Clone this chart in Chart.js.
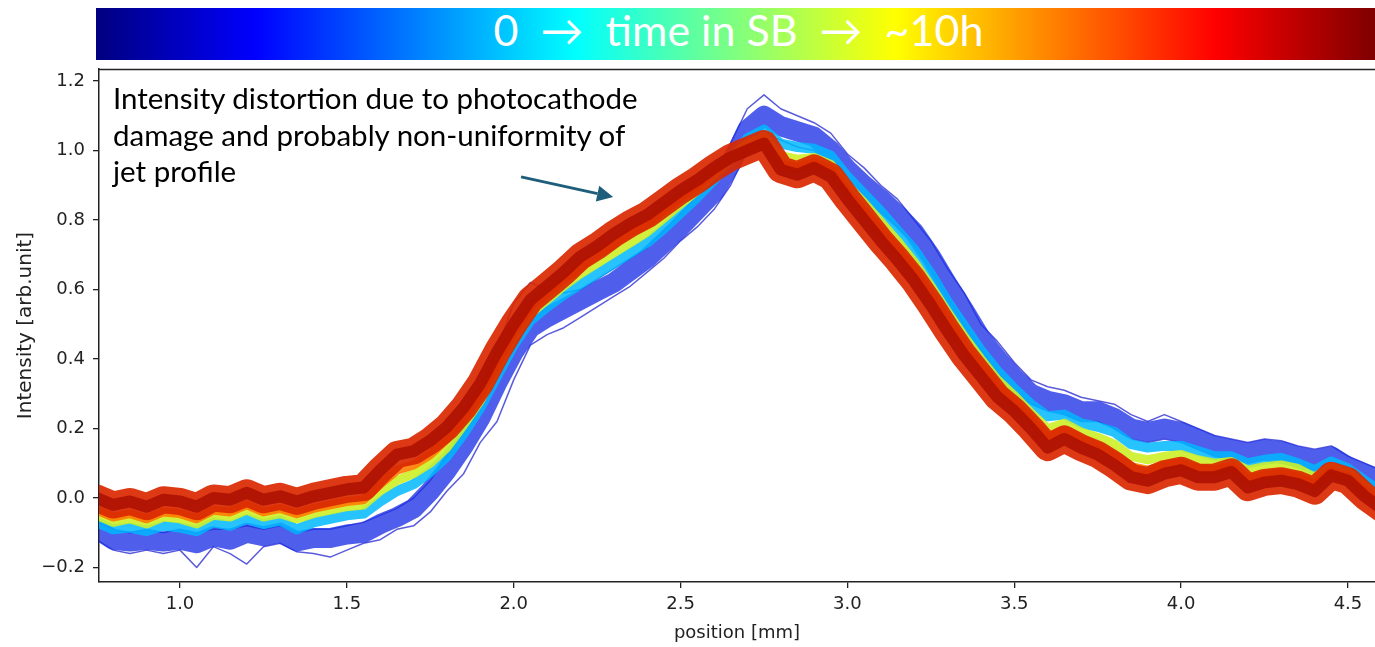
<!DOCTYPE html>
<html>
<head>
<meta charset="utf-8">
<script src="https://cdn.jsdelivr.net/npm/chart.js@4.4.0/dist/chart.umd.min.js"></script>
<style>
html,body{margin:0;padding:0;background:#fff;overflow:hidden}
#wrap{position:relative;width:1375px;height:647px}
#c{position:absolute;left:0;top:0}
#cbar{position:absolute;left:96px;top:8px;width:1279px;height:52px;overflow:hidden;
  background:linear-gradient(to right,#00007f 0%,#0000ff 12.5%,#007fff 25%,#00ffff 37.5%,#7fff7f 50%,#ffff00 62.5%,#ff7f00 75%,#ff0000 87.5%,#7f0000 100%);
  color:#fff;font-family:Lato,"Open Sans",sans-serif;font-size:43px;text-align:center;line-height:52px;white-space:pre}
#cbar span{position:relative;top:-4px;left:-93px;display:inline-block;width:1471px}
#note{position:absolute;left:113px;top:80px;font-family:Lato,"Open Sans",sans-serif;font-size:29.5px;line-height:36.5px;color:#000;white-space:pre}
</style>
</head>
<body>
<div id="wrap">
<canvas id="c" width="1375" height="647"></canvas>
<div id="cbar"><span>0  →  time in SB  →  ~10h</span></div>
<div id="note">Intensity distortion due to photocathode
damage and probably non-uniformity of
jet profile</div>
</div>
<script>
// ---- data ----
const positions = [0.75,0.80,0.85,0.90,0.95,1.00,1.05,1.10,1.15,1.20,1.25,1.30,1.35,1.40,1.45,1.50,1.55,1.60,1.65,1.70,1.75,1.80,1.85,1.90,1.95,2.00,2.05,2.10,2.15,2.20,2.25,2.30,2.35,2.40,2.45,2.50,2.55,2.60,2.65,2.70,2.75,2.80,2.85,2.90,2.95,3.00,3.05,3.10,3.15,3.20,3.25,3.30,3.35,3.40,3.45,3.50,3.55,3.60,3.65,3.70,3.75,3.80,3.85,3.90,3.95,4.00,4.05,4.10,4.15,4.20,4.25,4.30,4.35,4.40,4.45,4.50,4.55,4.60];

// early profiles (t ~ 0, blue)
const intensityBlue = [-0.09,-0.12,-0.125,-0.12,-0.125,-0.12,-0.13,-0.11,-0.12,-0.10,-0.11,-0.10,-0.125,-0.115,-0.115,-0.105,-0.10,-0.075,-0.055,-0.03,0.02,0.08,0.15,0.23,0.33,0.42,0.49,0.52,0.545,0.57,0.595,0.62,0.655,0.69,0.735,0.78,0.83,0.88,0.96,1.06,1.10,1.07,1.055,1.04,1.0,0.945,0.90,0.86,0.815,0.765,0.695,0.615,0.54,0.46,0.40,0.345,0.30,0.28,0.27,0.25,0.25,0.23,0.20,0.19,0.20,0.19,0.17,0.15,0.14,0.13,0.14,0.135,0.12,0.11,0.12,0.09,0.07,0.05];
// outermost early traces (upper / lower blue lines)
const intensityBlueUpper = [-0.07,-0.09,-0.10,-0.09,-0.10,-0.09,-0.10,-0.09,-0.09,-0.08,-0.09,-0.08,-0.10,-0.09,-0.09,-0.08,-0.07,-0.05,-0.03,0.0,0.05,0.12,0.20,0.30,0.43,0.56,0.62,0.60,0.59,0.60,0.63,0.66,0.69,0.72,0.77,0.82,0.87,0.93,1.02,1.12,1.16,1.12,1.10,1.08,1.05,0.99,0.95,0.90,0.86,0.80,0.74,0.66,0.59,0.50,0.45,0.39,0.34,0.32,0.31,0.29,0.28,0.27,0.24,0.22,0.24,0.22,0.20,0.18,0.17,0.16,0.17,0.165,0.15,0.14,0.15,0.12,0.10,0.08];
const intensityBlueLower = [-0.12,-0.15,-0.16,-0.15,-0.16,-0.15,-0.20,-0.14,-0.16,-0.19,-0.14,-0.13,-0.155,-0.16,-0.17,-0.15,-0.13,-0.12,-0.09,-0.08,-0.04,0.02,0.07,0.16,0.22,0.34,0.44,0.47,0.49,0.52,0.55,0.58,0.61,0.65,0.69,0.74,0.78,0.83,0.90,1.00,1.05,1.03,1.01,1.0,0.96,0.91,0.86,0.82,0.78,0.73,0.66,0.58,0.50,0.43,0.36,0.31,0.27,0.25,0.24,0.22,0.22,0.20,0.17,0.16,0.17,0.16,0.14,0.12,0.11,0.10,0.11,0.10,0.09,0.08,0.09,0.06,0.04,0.02];
// cyan profiles
const intensityCyan = [-0.07,-0.09,-0.085,-0.095,-0.08,-0.085,-0.095,-0.07,-0.08,-0.06,-0.075,-0.065,-0.09,-0.07,-0.06,-0.05,-0.045,-0.01,0.02,0.04,0.075,0.12,0.185,0.26,0.35,0.44,0.51,0.55,0.585,0.615,0.645,0.675,0.705,0.735,0.775,0.82,0.865,0.915,0.975,1.035,1.06,1.02,1.01,1.005,0.985,0.925,0.875,0.825,0.77,0.715,0.645,0.565,0.495,0.425,0.365,0.315,0.27,0.235,0.24,0.215,0.205,0.19,0.155,0.145,0.15,0.15,0.135,0.12,0.12,0.10,0.11,0.115,0.10,0.08,0.105,0.085,0.05,0.02];
// yellow-green profiles (middle of the run)
const intensityYellow = [-0.05,-0.07,-0.06,-0.075,-0.055,-0.06,-0.075,-0.05,-0.055,-0.035,-0.055,-0.045,-0.06,-0.045,-0.035,-0.025,-0.02,0.02,0.05,0.07,0.10,0.145,0.21,0.28,0.37,0.46,0.53,0.57,0.61,0.645,0.675,0.705,0.735,0.765,0.805,0.845,0.885,0.93,0.98,1.02,1.04,0.985,0.975,0.98,0.96,0.90,0.85,0.795,0.74,0.68,0.61,0.535,0.465,0.40,0.34,0.295,0.245,0.20,0.215,0.19,0.175,0.155,0.12,0.11,0.12,0.125,0.11,0.10,0.105,0.08,0.09,0.095,0.085,0.06,0.09,0.075,0.035,0.0];
// orange profiles
const intensityOrange = [-0.035,-0.055,-0.045,-0.06,-0.04,-0.045,-0.06,-0.035,-0.04,-0.02,-0.04,-0.03,-0.045,-0.03,-0.02,-0.01,-0.005,0.04,0.08,0.095,0.125,0.17,0.23,0.30,0.39,0.48,0.55,0.59,0.63,0.665,0.70,0.73,0.765,0.79,0.83,0.865,0.90,0.94,0.975,1.005,1.025,0.96,0.95,0.965,0.945,0.88,0.825,0.77,0.715,0.655,0.585,0.51,0.44,0.38,0.32,0.275,0.225,0.175,0.195,0.17,0.15,0.125,0.09,0.08,0.095,0.10,0.085,0.08,0.09,0.055,0.065,0.07,0.06,0.04,0.075,0.06,0.02,-0.015];
// late profiles (t ~ 10 h, red)
const intensityRed = [0.00,-0.02,-0.01,-0.025,-0.005,-0.01,-0.025,0.00,-0.005,0.015,-0.005,0.005,-0.01,0.005,0.015,0.025,0.03,0.08,0.125,0.135,0.165,0.205,0.26,0.33,0.42,0.50,0.57,0.61,0.65,0.695,0.725,0.76,0.79,0.815,0.85,0.885,0.915,0.95,0.98,1.00,1.02,0.945,0.93,0.95,0.925,0.86,0.80,0.74,0.685,0.625,0.555,0.48,0.41,0.35,0.29,0.25,0.20,0.145,0.17,0.145,0.125,0.095,0.06,0.05,0.07,0.08,0.06,0.06,0.075,0.03,0.045,0.05,0.04,0.02,0.065,0.05,0.005,-0.03];

const xTicks = [1.0,1.5,2.0,2.5,3.0,3.5,4.0,4.5];
const yTicks = [-0.2,0.0,0.2,0.4,0.6,0.8,1.0,1.2];
const xRange = [0.7573,4.581];
const yRange = [-0.2417,1.2345];
const arrowFrom = [2.022,0.924];
const arrowTo = [2.298,0.866];

// ---- build chart ----
const pts = arr => positions.map((x,i)=>({x:x,y:arr[i]}));
const band = (label,arr,color,width,order) => ({
  label:label,data:pts(arr),borderColor:color,borderWidth:width,
  pointRadius:0,tension:0,fill:false,clip:0,order:order,
  borderJoinStyle:'round',borderCapStyle:'round'
});

const fmt = v => {const s=Math.abs(v).toFixed(1);return v< -1e-9 ? '\u2212'+s : s;};

const frame = {
  id:'frame',
  afterDraw(chart){
    const {ctx,chartArea:a,scales:{x,y}} = chart;
    ctx.save();
    ctx.strokeStyle='#222';ctx.lineWidth=1.5;
    ctx.beginPath();ctx.moveTo(a.left,a.top+0.5);ctx.lineTo(a.right,a.top+0.5);ctx.stroke();
    // annotation arrow
    const x0=x.getPixelForValue(arrowFrom[0]),y0=y.getPixelForValue(arrowFrom[1]);
    const x1=x.getPixelForValue(arrowTo[0]),y1=y.getPixelForValue(arrowTo[1]);
    const ang=Math.atan2(y1-y0,x1-x0),hl=16,hw=8;
    const bx=x1-hl*Math.cos(ang),by=y1-hl*Math.sin(ang);
    ctx.strokeStyle='#1f5e7a';ctx.fillStyle='#1f5e7a';ctx.lineWidth=3;
    ctx.beginPath();ctx.moveTo(x0,y0);ctx.lineTo(bx,by);ctx.stroke();
    ctx.beginPath();ctx.moveTo(x1,y1);
    ctx.lineTo(bx+hw*Math.sin(ang),by-hw*Math.cos(ang));
    ctx.lineTo(bx-hw*Math.sin(ang),by+hw*Math.cos(ang));
    ctx.closePath();ctx.fill();
    ctx.restore();
  }
};

const tickFont = {family:'"DejaVu Sans", sans-serif',size:18};

new Chart(document.getElementById('c'),{
  type:'line',
  data:{datasets:[
    band('t0 upper trace',intensityBlueUpper,'rgba(35,35,210,0.75)',1.5,8),
    band('t0 lower trace',intensityBlueLower,'rgba(35,35,210,0.75)',1.5,9),
    band('t0 (blue)',intensityBlue,'rgba(30,50,230,0.78)',20,7),
    band('cyan',intensityCyan,'rgba(0,185,255,0.85)',10,5),
    band('yellow',intensityYellow,'rgba(205,240,40,0.9)',9,4),
    band('orange',intensityOrange,'rgba(255,125,0,0.9)',9,3),
    band('red',intensityRed,'rgba(218,40,0,0.92)',27,2),
    band('dark red',intensityRed,'rgba(170,15,0,0.85)',12,1)
  ]},
  options:{
    responsive:false,animation:false,
    layout:{padding:{top:69,left:0,right:0,bottom:0},autoPadding:false},
    plugins:{legend:{display:false},tooltip:{enabled:false}},
    scales:{
      x:{type:'linear',min:xRange[0],max:xRange[1],
        afterBuildTicks:s=>{s.ticks=xTicks.map(v=>({value:v}));},
        afterFit:s=>{s.height=65;},
        ticks:{callback:v=>fmt(v),font:tickFont,color:'#222',padding:6,maxRotation:0,autoSkip:false},
        grid:{drawOnChartArea:false,drawTicks:true,tickLength:6,color:'#222',lineWidth:1.3},
        border:{display:true,color:'#222',width:1.5},
        title:{display:true,text:'position [mm]',font:tickFont,color:'#222',padding:{top:0,bottom:3}}
      },
      y:{type:'linear',min:yRange[0],max:yRange[1],
        afterBuildTicks:s=>{s.ticks=yTicks.map(v=>({value:v}));},
        afterFit:s=>{s.width=99;},
        ticks:{callback:v=>fmt(v),font:tickFont,color:'#222',padding:8,autoSkip:false},
        grid:{drawOnChartArea:false,drawTicks:true,tickLength:6,color:'#222',lineWidth:1.3},
        border:{display:true,color:'#222',width:1.5},
        title:{display:true,text:'Intensity [arb.unit]',font:{family:'"DejaVu Sans", sans-serif',size:20},color:'#222',padding:{top:14,bottom:0}}
      }
    }
  },
  plugins:[frame]
});
</script>
</body>
</html>
